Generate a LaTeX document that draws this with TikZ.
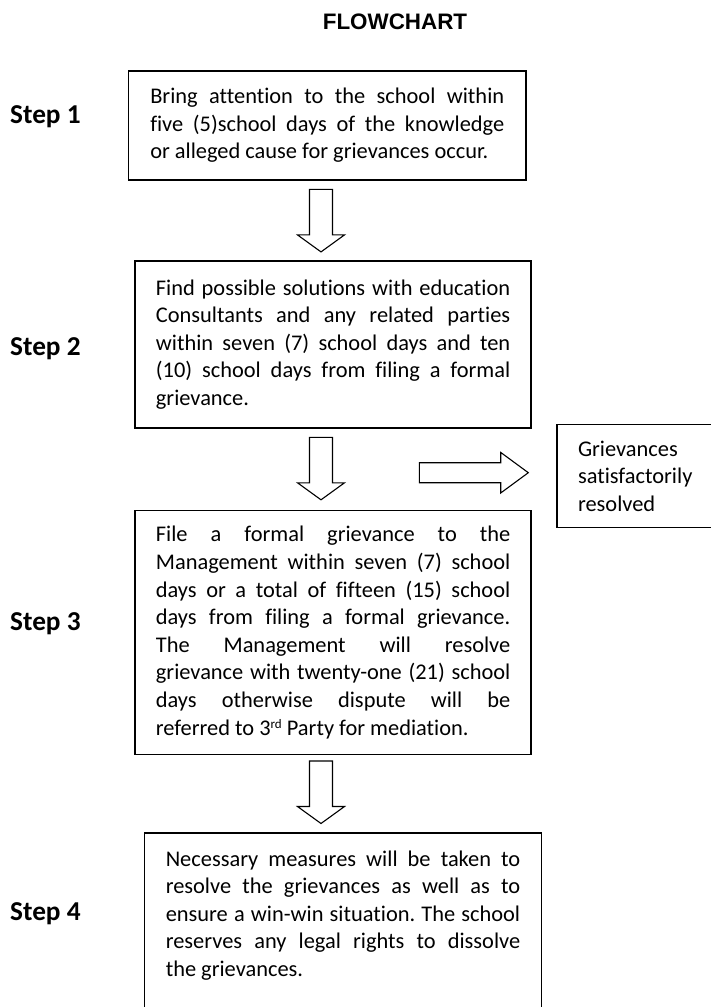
\documentclass[tikz,border=0pt]{standalone}
\usepackage{fontspec}
\setmainfont{Carlito}[Ligatures=NoCommon]
\newfontfamily\titlefont{Liberation Sans}
\usepackage{tikz}
\definecolor{boxline}{RGB}{0,0,0}
\newcommand\boxfont{\fontsize{22.4}{27.6}\selectfont}
\newcommand\stepfont{\fontsize{27.3}{32}\selectfont\bfseries}
\frenchspacing
\tolerance=10000
\hbadness=10000
\hyphenpenalty=10000
\tikzset{
    stepbox/.style={draw=boxline, line width=1.8pt, anchor=north west, outer sep=0pt, inner ysep=4pt, align=justify, font=\boxfont},
    steplabel/.style={anchor=base west, inner sep=0pt, font=\stepfont},
    arrowline/.style={draw=boxline, fill=white, line width=1.1pt},
    downblock/.pic={\path[arrowline] (-11.5,0) -- (-11.5,45.5) -- (-23.5,45.5) -- (0,62.5) -- (23.5,45.5) -- (11.5,45.5) -- (11.5,0) -- cycle;},
    sideblock/.pic={\path[arrowline] (0,-10) -- (81.4,-10) -- (81.4,-20.3) -- (109,0) -- (81.4,20.3) -- (81.4,10) -- (0,10) -- cycle;}
}

\begin{document}
\begin{tikzpicture}[x=1pt, y=-1pt]
    \path[fill=white, use as bounding box] (0,0) rectangle (711,1007);
    \clip (0,0) rectangle (711,1007);

    % title
    \node[anchor=base, inner sep=0pt, font=\titlefont\bfseries\fontsize{22.4}{26}\selectfont] (title) at (395,29.3) {FLOWCHART};

    % step labels
    \node[steplabel] (lab1) at (10,123) {Step 1};
    \node[steplabel] (lab2) at (10,355.5) {Step 2};
    \node[steplabel] (lab3) at (10,630.5) {Step 3};
    \node[steplabel] (lab4) at (10,920) {Step 4};

    % boxes
    \node[stepbox, text width=354pt, inner xsep=21.75pt, minimum height=109.3pt] (box1) at (128.5,70.7) {
        Bring attention to the school within\linebreak
        five (5)school days of the knowledge\linebreak
        or alleged cause for grievances occur.};
    \node[stepbox, text width=354.4pt, inner xsep=20.9pt, minimum height=166.7pt] (box2) at (135,261) {
        Find possible solutions with education\linebreak
        Consultants and any related parties\linebreak
        within seven (7) school days and ten\linebreak
        (10) school days from filing a formal\linebreak
        grievance.};
    \node[stepbox, text width=354.4pt, inner xsep=20.9pt, minimum height=244pt] (box3) at (135,510.5) {
        File a formal grievance to the\linebreak
        Management within seven (7) school\linebreak
        days or a total of fifteen (15) school\linebreak
        days from filing a formal grievance.\linebreak
        The Management will resolve\linebreak
        grievance with twenty-one (21) school\linebreak
        days otherwise dispute will be\linebreak
        referred to 3\raisebox{7pt}{\fontsize{13}{13}\selectfont rd} Party for mediation.};
    \node[stepbox, text width=354.5pt, inner xsep=21.25pt, inner ysep=17.5pt] (box4) at (144.5,833) {
        Necessary measures will be taken to\linebreak
        resolve the grievances as well as to\linebreak
        ensure a win-win situation. The school\linebreak
        reserves any legal rights to dissolve\linebreak
        the grievances.\par\rule{0pt}{70pt}};
    \node[stepbox, align=left, text width=150pt, inner xsep=21pt, minimum height=103pt] (done) at (557,424.5) {
        Grievances\\satisfactorily\\resolved};

    % block arrows
    \pic (arr1) at (321,189.4) {downblock};
    \pic (arr2) at (321,437.3) {downblock};
    \pic (arr3) at (321,761) {downblock};
    \pic (arr4) at (419.3,472.7) {sideblock};
\end{tikzpicture}
\end{document}
